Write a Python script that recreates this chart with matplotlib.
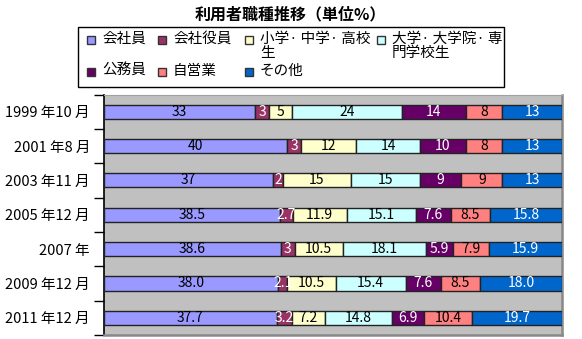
import matplotlib
matplotlib.use("Agg")
import matplotlib.pyplot as plt
from matplotlib.patches import Rectangle
import numpy as np

plt.rcParams['font.family'] = ['Noto Sans CJK JP', 'DejaVu Sans']

title = "利用者職種推移（単位%）"
periods = ["1999 年10 月", "2001 年8 月", "2003 年11 月", "2005 年12 月",
           "2007 年", "2009 年12 月", "2011 年12 月"]
series_names = ["会社員", "会社役員", "小学· 中学· 高校\n生", "大学· 大学院· 専\n門学校生",
                "公務員", "自営業", "その他"]
kaishain   = ["33", "40", "37", "38.5", "38.6", "38.0", "37.7"]
yakuin     = ["3", "3", "2", "2.7", "3", "2.1", "3.2"]
shochuko   = ["5", "12", "15", "11.9", "10.5", "10.5", "7.2"]
daigaku    = ["24", "14", "15", "15.1", "18.1", "15.4", "14.8"]
komuin     = ["14", "10", "9", "7.6", "5.9", "7.6", "6.9"]
jieigyo    = ["8", "8", "9", "8.5", "7.9", "8.5", "10.4"]
sonota     = ["13", "13", "13", "15.8", "15.9", "18.0", "19.7"]
series = [kaishain, yakuin, shochuko, daigaku, komuin, jieigyo, sonota]
colors = ["#9999FF", "#993366", "#FFFFCC", "#CCFFFF", "#660066", "#FF8080", "#0066CC"]
text_colors = ["black", "white", "black", "black", "white", "black", "white"]

W, H = 582, 339
fig = plt.figure(figsize=(W / 100, H / 100), dpi=100)
fig.patch.set_facecolor("white")

L, R, T, B = 104, 562, 94.5, 335
ax = fig.add_axes([L / W, 1 - B / H, (R - L) / W, (B - T) / H])
ax.set_facecolor("#C0C0C0")

vals = np.array([[float(v) for v in s] for s in series])  # series x periods
totals = vals.sum(axis=0)
pct = vals / totals * 100
y = np.arange(len(periods))
left = np.zeros(len(periods))
for i in range(len(series)):
    ax.barh(y, pct[i], left=left, height=0.41, color=colors[i],
            edgecolor="#222222", linewidth=1.0, zorder=3)
    for j in range(len(periods)):
        ax.text(left[j] + pct[i, j] / 2, y[j], series[i][j], ha="center", va="center",
                fontsize=10, color=text_colors[i], zorder=4)
    left += pct[i]

ax.set_xlim(0, 100)
ax.set_ylim(len(periods) - 0.5, -0.5)
ax.set_xticks([])
ax.set_yticks(np.arange(-0.5, len(periods), 1.0))
ax.set_yticklabels([])
ax.tick_params(axis="y", which="major", length=7, width=1, direction="out", color="black")
ax.set_yticks(y, minor=True)
ax.set_yticklabels(periods, minor=True, fontsize=10.5)
ax.tick_params(axis="y", which="minor", length=0, pad=10)
ax.spines["left"].set_color("black")
ax.spines["left"].set_linewidth(1.2)
ax.spines["top"].set_color("#A0A0A0")
ax.spines["right"].set_color("#888888")
ax.spines["bottom"].set_color("#888888")
ax.spines["right"].set_linewidth(1.8)
ax.spines["bottom"].set_linewidth(1.8)

# overlay for title and legend in pixel coords
ov = fig.add_axes([0, 0, 1, 1], facecolor="none")
ov.set_xlim(0, W)
ov.set_ylim(H, 0)
ov.axis("off")

ov.text(290, 14, title, ha="center", va="center", fontsize=11.5, fontweight="bold")

ov.add_patch(Rectangle((78, 27), 426, 60, facecolor="white", edgecolor="black", linewidth=1.0))
leg_pos = [(87, 40), (158, 40), (245, 40), (377, 40), (87, 72), (158, 72), (245, 72)]
for i, (mx, my) in enumerate(leg_pos):
    ov.add_patch(Rectangle((mx, my - 4), 8, 8, facecolor=colors[i], edgecolor="#333333", linewidth=1.0))
    ov.text(mx + 15, my - 8, series_names[i], ha="left", va="top", fontsize=10.5,
            linespacing=1.0)

fig.savefig("out.png", dpi=100, facecolor="white")
